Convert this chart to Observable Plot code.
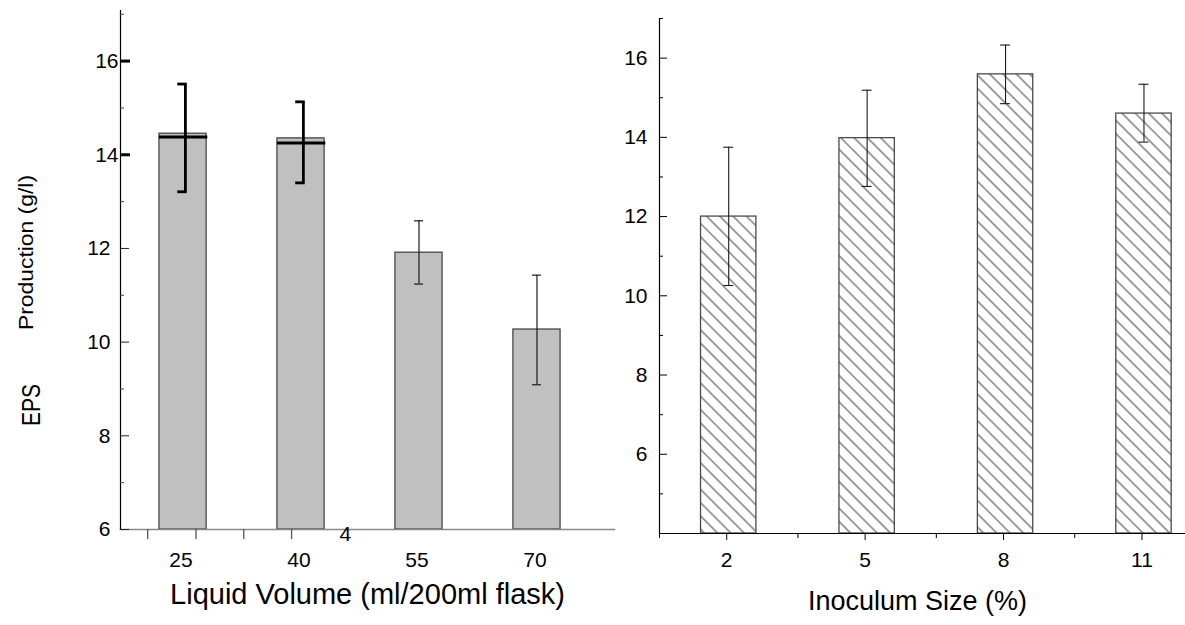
<!DOCTYPE html>
<html>
<head>
<meta charset="utf-8">
<script src="https://cdn.jsdelivr.net/npm/d3@7"></script>
<script src="https://cdn.jsdelivr.net/npm/@observablehq/plot@0.6"></script>
<style>
  html, body { margin: 0; padding: 0; background: #fff; }
  #wrap { position: relative; width: 1185px; height: 625px; overflow: hidden; background: #fff; }
  #left { position: absolute; left: 0; top: 0; }
  #right { position: absolute; left: 590px; top: 0; }
  #left svg, #right svg { max-width: none !important; }
</style>
</head>
<body>
<svg width="0" height="0" style="position:absolute">
  <defs>
    <pattern id="hatch" patternUnits="userSpaceOnUse" width="9.4" height="9.4" patternTransform="rotate(45)">
      <rect width="9.4" height="9.4" fill="#fff"></rect>
      <line x1="0" y1="4.7" x2="9.4" y2="4.7" stroke="#2a2a2a" stroke-width="0.9"></line>
    </pattern>
  </defs>
</svg>
<div id="wrap">
  <div id="left"></div>
  <div id="right"></div>
</div>
<script>
// ---------- data ----------
const volumeLabels = ["25", "40", "55", "70"];
const volumeMeans  = [14.45, 14.35, 11.91, 10.27];
const volumeLow    = [13.21, 13.40, 11.24, 9.09];
const volumeHigh   = [15.51, 15.13, 12.59, 11.43];
const volumeMarkers = [14.38, 14.25];           // bold mean lines drawn on the first two bars

const inoculumLabels = ["2", "5", "8", "11"];
const inoculumMeans  = [12.00, 13.98, 15.59, 14.60];
const inoculumLow    = [10.26, 12.76, 14.85, 13.88];
const inoculumHigh   = [13.75, 15.19, 16.33, 15.34];

const leftYMajor  = [6, 8, 10, 12, 14, 16];
const leftYMinor  = [7, 9, 11, 13, 15, 17];
const rightYMajor = [6, 8, 10, 12, 14, 16];
const rightYMinor = [5, 7, 9, 11, 13, 15, 17];

const leftStrayTicks  = [-0.30, 0.11, 0.515, 0.92];   // stray x ticks of the left panel (band units)
const leftStrayLabels = [{pos: 1.375, text: "4"}];
const rightMinorX     = [-0.5, 0.5, 1.5, 2.5];

// ---------- helpers ----------
const fontFamily = '"Liberation Sans", Arial, Helvetica, sans-serif';
const volumeRows = volumeLabels.map((label, i) => ({
  i, label, mean: volumeMeans[i], lo: volumeLow[i], hi: volumeHigh[i],
  bold: i < volumeMarkers.length, marker: volumeMarkers[i]
}));
const inoculumRows = inoculumLabels.map((label, i) => ({
  i, label, mean: inoculumMeans[i], lo: inoculumLow[i], hi: inoculumHigh[i]
}));
const caps = rows => rows.flatMap(d => [{...d, v: d.lo}, {...d, v: d.hi}]);

// ---------- left panel ----------
const LW = 620, LML = 120, LMR = 6;
const leftFrameW = LW - LML - LMR;
const boldRows = volumeRows.filter(d => d.bold);
const thinRows = volumeRows.filter(d => !d.bold);

const left = Plot.plot({
  width: LW, height: 625,
  marginLeft: LML, marginRight: LMR, marginTop: 10, marginBottom: 96,
  style: {fontFamily, fontSize: "21px", background: "transparent", overflow: "visible", color: "#000"},
  x: {type: "linear", domain: [-0.53, 3.657]},
  y: {domain: [6, 17.08]},
  marks: [
    Plot.rect(volumeRows, {x1: d => d.i - 0.2, x2: d => d.i + 0.2, y1: 6, y2: "mean",
      fill: "#c0c0c0", stroke: "#3c3c3c", strokeWidth: 1.2}),
    Plot.ruleY(boldRows, {y: "marker", x1: d => d.i - 0.2, x2: d => d.i + 0.21, stroke: "#000", strokeWidth: 3}),
    Plot.ruleX(boldRows, {x: d => d.i + 0.02, y1: "lo", y2: "hi", stroke: "#000", strokeWidth: 2.8}),
    Plot.ruleY(caps(boldRows), {y: "v", x1: d => d.i - 0.045, x2: d => d.i + 0.035, stroke: "#000", strokeWidth: 2.8}),
    Plot.ruleX(thinRows, {x: "i", y1: "lo", y2: "hi", stroke: "#1a1a1a", strokeWidth: 1.2}),
    Plot.ruleY(caps(thinRows), {y: "v", x1: d => d.i - 0.038, x2: d => d.i + 0.038, stroke: "#1a1a1a", strokeWidth: 1.2}),
    Plot.frame({anchor: "bottom", stroke: "#888", strokeWidth: 1.6}),
    Plot.frame({anchor: "left", stroke: "#000", strokeWidth: 1.2}),
    Plot.tickY(leftYMajor.filter(v => v < 14), {y: d => d, insetRight: leftFrameW - 9, stroke: "#222", strokeWidth: 1}),
    Plot.tickY(leftYMajor.filter(v => v >= 14), {y: d => d, insetRight: leftFrameW - 10, stroke: "#000", strokeWidth: 3}),
    Plot.tickY(leftYMinor, {y: d => d, insetRight: leftFrameW - 4, stroke: "#444", strokeWidth: 1}),
    Plot.axisY({ticks: leftYMajor.filter(v => v < 14), tickSize: 0, tickPadding: 10, fontSize: 21, label: null}),
    Plot.axisY({ticks: leftYMajor.filter(v => v >= 14), tickSize: 0, tickPadding: 2, fontSize: 21, label: null}),
    Plot.axisX({ticks: [0, 1, 2, 3], tickFormat: i => volumeLabels[i], tickSize: 0, tickPadding: 23, fontSize: 21, label: null, dx: -2}),
    Plot.axisX({ticks: leftStrayTicks, tickFormat: () => "", tickSize: 10, stroke: "#555", strokeWidth: 1.3, label: null}),
    Plot.text(leftStrayLabels, {x: "pos", y: () => 6, text: "text", dy: 5, fontSize: 21, fill: "#000"}),
    Plot.text(["Liquid Volume (ml/200ml flask)"], {frameAnchor: "bottom", dy: 74, fontSize: 29, fill: "#000"}),
    Plot.text(["Production (g/l)"], {frameAnchor: "left", dx: -94, dy: 60, rotate: -90, textAnchor: "start", fontSize: 20, fill: "#000", className: "ylab-prod"}),
    Plot.text(["EPS"], {frameAnchor: "left", dx: -89, dy: 156, rotate: -90, textAnchor: "start", fontSize: 25, fill: "#000", className: "ylab-eps"})
  ]
});
left.querySelectorAll(".ylab-prod text").forEach(t => { t.setAttribute("textLength", 155); t.setAttribute("lengthAdjust", "spacingAndGlyphs"); });
left.querySelectorAll(".ylab-eps text").forEach(t => { t.setAttribute("textLength", 42); t.setAttribute("lengthAdjust", "spacingAndGlyphs"); });
document.getElementById("left").append(left);

// ---------- right panel ----------
const RW = 595, RML = 69, RMR = 0;
const rightFrameW = RW - RML - RMR;
const right = Plot.plot({
  width: RW, height: 625,
  marginLeft: RML, marginRight: RMR, marginTop: 18, marginBottom: 92,
  style: {fontFamily, fontSize: "21px", background: "transparent", overflow: "visible", color: "#000"},
  x: {type: "linear", domain: [-0.5, 3.3]},
  y: {domain: [4, 17]},
  marks: [
    Plot.rect(inoculumRows, {x1: d => d.i - 0.2, x2: d => d.i + 0.2, y1: 4, y2: "mean",
      fill: "url(#hatch)", stroke: "#4a4a4a", strokeWidth: 1.3}),
    Plot.ruleX(inoculumRows, {x: "i", y1: "lo", y2: "hi", stroke: "#1a1a1a", strokeWidth: 1.1}),
    Plot.ruleY(caps(inoculumRows), {y: "v", x1: d => d.i - 0.036, x2: d => d.i + 0.036, stroke: "#1a1a1a", strokeWidth: 1.1}),
    Plot.frame({anchor: "bottom", stroke: "#000", strokeWidth: 1.2}),
    Plot.frame({anchor: "left", stroke: "#000", strokeWidth: 1.2}),
    Plot.tickY(rightYMajor, {y: d => d, insetRight: rightFrameW - 8, stroke: "#000", strokeWidth: 1}),
    Plot.tickY(rightYMinor, {y: d => d, insetRight: rightFrameW - 4, stroke: "#000", strokeWidth: 1}),
    Plot.axisY({ticks: rightYMajor, tickSize: 0, tickPadding: 12, fontSize: 21, label: null}),
    Plot.axisX({ticks: [0, 1, 2, 3], tickFormat: i => inoculumLabels[i], tickSize: 7, tickPadding: 12, fontSize: 21, label: null, dx: -2}),
    Plot.axisX({ticks: rightMinorX, tickFormat: () => "", tickSize: 5, label: null}),
    Plot.text(["Inoculum Size (%)"], {frameAnchor: "bottom", dx: -5, dy: 76, fontSize: 27, fill: "#000"})
  ]
});
document.getElementById("right").append(right);
</script>
</body>
</html>
